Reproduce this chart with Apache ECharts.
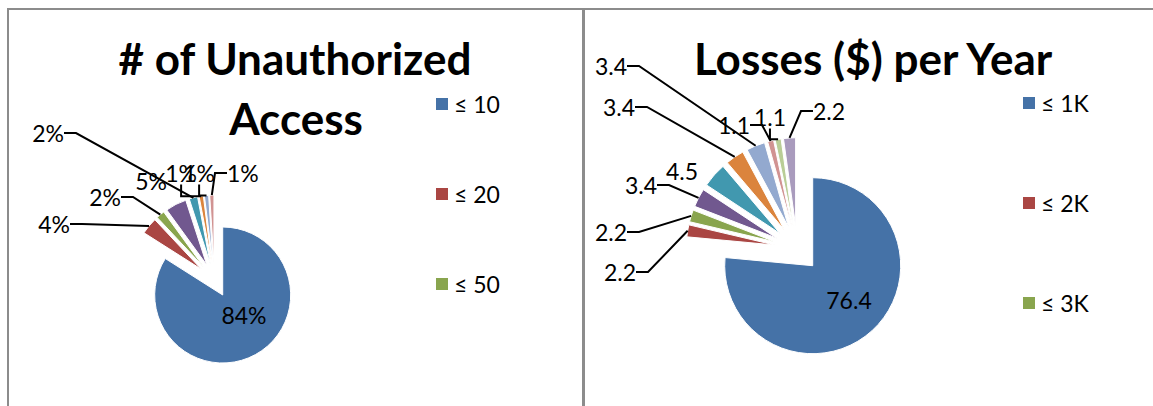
<!DOCTYPE html>
<html>
<head>
<meta charset="utf-8">
<script src="https://cdn.jsdelivr.net/npm/echarts@6/dist/echarts.min.js"></script>
<style>
  html, body { margin: 0; padding: 0; background: #ffffff; }
  #chart { width: 1153px; height: 406px; }
</style>
</head>
<body>
<div id="chart"></div>
<script>
// Number of unauthorized accesses per respondent (share, %)
const accessCategories = ['≤ 10', '≤ 20', '≤ 50', '≤ 100', '≤ 200', '≤ 500', '≤ 1000', '> 1000'];
const accessShares = [84, 4, 2, 5, 2, 1, 1, 1];

// Yearly losses in dollars (share, %)
const lossCategories = ['≤ 1K', '≤ 2K', '≤ 3K', '≤ 5K', '≤ 10K', '≤ 20K', '≤ 50K', '≤ 100K', '≤ 500K', '> 500K'];
const lossShares = [76.4, 2.2, 2.2, 3.4, 4.5, 3.4, 3.4, 1.1, 1.1, 2.2];

// Only the first few legend entries fit in each panel
const legendEntries = 3;

const palette = ['#4572A7', '#AA4643', '#89A54E', '#71588F', '#4198AF',
                 '#DB843D', '#93A9CF', '#D19392', '#B9CD96', '#A99BBD'];

// Where each value label sits: [x, y, align]
const accessLabelSpots = [[244, 315, 'center'], [70, 224, 'right'], [121, 197, 'right'], [167, 181, 'right'],
  [64, 133, 'right'], [197, 173, 'right'], [215, 173, 'right'], [227, 173, 'left']];
const lossLabelSpots = [[849, 300, 'center'], [636, 272, 'right'], [627, 232, 'right'], [657, 185, 'right'],
  [698, 171, 'right'], [635, 107, 'right'], [627, 66, 'right'], [750, 125, 'right'],
  [786, 117, 'right'], [813, 111, 'left']];
// Labels drawn without a leader line
const accessNoLine = [0, 3];
const lossNoLine = [0, 4];

const FONT = 'Lato, "Open Sans", sans-serif';
const FRAME_GREY = '#8c8c8c';

// Exploded pie: every slice is pulled out along its bisector
function slicesSeries(id, names, values, center, radius, offset) {
  return {
    type: 'pie',
    name: id,
    center: center,
    radius: radius,
    startAngle: 90,
    clockwise: true,
    selectedMode: 'multiple',
    selectedOffset: offset,
    animation: false,
    emphasis: { disabled: true },
    label: { show: false },
    labelLine: { show: false },
    data: names.map((name, i) => ({
      name: name,
      value: values[i],
      selected: true,
      itemStyle: { color: palette[i % palette.length], borderColor: '#ffffff', borderWidth: 1 }
    }))
  };
}

// Transparent twin reaching the exploded rim; it carries the value labels and leader lines
function labelSeries(id, names, values, center, reach, fmt, spots, noLine) {
  return {
    type: 'pie',
    name: id,
    center: center,
    radius: reach,
    startAngle: 90,
    clockwise: true,
    silent: true,
    legendHoverLink: false,
    avoidLabelOverlap: false,
    animation: false,
    z: 3,
    emphasis: { disabled: true },
    label: {
      show: true,
      position: 'outside',
      formatter: fmt,
      color: '#000000',
      fontFamily: FONT,
      fontSize: 23
    },
    labelLine: {
      show: true,
      length: 8,
      length2: 12,
      lineStyle: { color: '#000000', width: 2 }
    },
    labelLayout: function (params) {
      const s = spots[params.dataIndex];
      return { x: s[0], y: s[1], align: s[2], verticalAlign: 'middle' };
    },
    data: names.map((name, i) => {
      const item = {
        name: name,
        value: values[i],
        itemStyle: { color: 'rgba(0,0,0,0)', borderWidth: 0 }
      };
      if (noLine.indexOf(i) >= 0) item.labelLine = { show: false };
      return item;
    })
  };
}

function legendFor(names, left, top, gap) {
  return {
    data: names.slice(0, legendEntries),
    orient: 'vertical',
    left: left,
    top: top,
    itemWidth: 14,
    itemHeight: 14,
    itemGap: gap,
    icon: 'rect',
    selectedMode: false,
    textStyle: { fontFamily: FONT, fontSize: 23, color: '#000000', lineHeight: 24 }
  };
}

function titleText(str, x, y) {
  return {
    type: 'text',
    x: x,
    y: y,
    silent: true,
    style: {
      text: str,
      fontFamily: FONT,
      fontWeight: 'bold',
      fontSize: 44,
      fill: '#000000',
      align: 'center',
      verticalAlign: 'middle'
    }
  };
}

const chart = echarts.init(document.getElementById('chart'), null, { renderer: 'svg' });
chart.setOption({
  animation: false,
  legend: [
    legendFor(accessCategories, 429, 87, 66),
    legendFor(lossCategories, 1016, 86, 76)
  ],
  graphic: [
    { type: 'polyline', silent: true,
      shape: { points: [[8, 406], [8, 9], [1153, 9]] },
      style: { stroke: FRAME_GREY, lineWidth: 2, fill: null } },
    { type: 'line', silent: true,
      shape: { x1: 583.5, y1: 9, x2: 583.5, y2: 406 },
      style: { stroke: FRAME_GREY, lineWidth: 3 } },
    titleText('# of Unauthorized', 295, 58),
    titleText('Access', 296, 118),
    titleText('Losses ($) per Year', 873, 58)
  ],
  series: [
    slicesSeries('access', accessCategories, accessShares, [214.5, 280.1], 68, 17),
    slicesSeries('losses', lossCategories, lossShares, [797.2, 248.7], 88, 23),
    labelSeries('access labels', accessCategories, accessShares, [214.5, 280.1], 85, '{c}%', accessLabelSpots, accessNoLine),
    labelSeries('losses labels', lossCategories, lossShares, [797.2, 248.7], 111, '{c}', lossLabelSpots, lossNoLine)
  ]
});
</script>
</body>
</html>
